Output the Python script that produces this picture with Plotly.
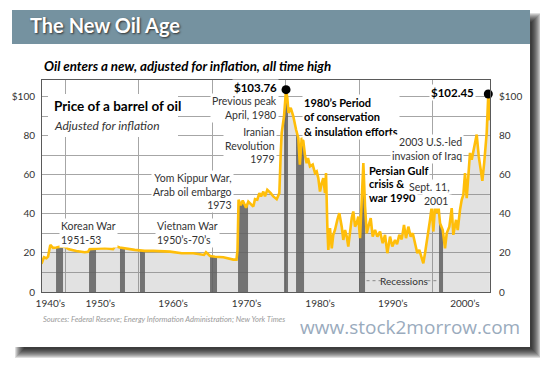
import plotly.graph_objects as go
import numpy as np

# ---------------- data ----------------
years = [1946.80, 1947.14, 1947.46, 1947.69, 1948.00, 1948.37, 1948.82, 1949.52, 1949.96, 1950.54,
         1951.54, 1952.68, 1953.13, 1953.36, 1954.26, 1955.40, 1956.53, 1956.87, 1957.44, 1958.34,
         1959.48, 1960.84, 1962.01, 1964.29, 1965.88, 1967.46, 1968.91, 1969.18, 1969.73, 1970.41,
         1971.54, 1972.90, 1973.33, 1973.47, 1973.61, 1973.90, 1974.18, 1974.63, 1974.94, 1975.62,
         1975.85, 1976.16, 1976.44, 1976.67, 1976.98, 1977.21, 1977.52, 1977.99, 1978.34, 1978.80,
         1979.16, 1979.35, 1979.48, 1979.80, 1980.07, 1980.24, 1980.41, 1980.71, 1981.06, 1981.43,
         1981.74, 1981.95, 1982.20, 1982.42, 1982.65, 1982.88, 1983.06, 1983.33, 1983.70, 1984.01,
         1984.24, 1984.46, 1984.69, 1984.93, 1985.14, 1985.37, 1985.51, 1985.69, 1985.82, 1986.05,
         1986.29, 1986.50, 1986.73, 1987.05, 1987.32, 1987.65, 1987.86, 1988.10, 1988.33, 1988.54,
         1988.78, 1989.01, 1989.22, 1989.46, 1989.69, 1989.90, 1990.14, 1990.37, 1990.59, 1990.82,
         1991.05, 1991.27, 1991.59, 1991.86, 1992.18, 1992.49, 1992.86, 1993.22, 1993.54, 1993.85,
         1994.22, 1994.53, 1994.90, 1995.17, 1995.48, 1995.81, 1996.12, 1996.39, 1996.71, 1997.03,
         1997.31, 1997.62, 1997.93, 1998.20, 1998.53, 1998.75, 1998.98, 1999.29, 1999.66, 1999.89,
         2000.11, 2000.34, 2000.57, 2000.79, 2001.02, 2001.39, 2001.70, 2001.93, 2002.29, 2002.61,
         2002.83, 2003.20, 2003.43, 2003.74, 2003.97, 2004.19, 2004.42, 2004.65, 2004.87, 2005.10,
         2005.33, 2005.69, 2006.01, 2006.29, 2006.56, 2006.78, 2007.05, 2007.37, 2007.59, 2007.80]
price = [14.5, 17.8, 17.3, 18.1, 24.1, 22.6, 22.8, 23.4, 23.1, 21.9,
         21.0, 20.4, 20.6, 22.0, 22.2, 22.4, 22.0, 23.6, 22.8, 22.1,
         21.6, 21.1, 21.1, 20.7, 19.9, 19.9, 19.0, 20.4, 18.5, 18.1,
         17.8, 16.6, 16.6, 21.5, 47.3, 44.5, 46.9, 43.2, 46.4, 43.8,
         47.6, 47.3, 50.7, 49.0, 51.5, 49.0, 52.4, 50.7, 49.0, 47.6,
         50.7, 71.3, 81.6, 90.1, 103.76, 99.6, 91.8, 94.4, 90.1, 83.3,
         79.0, 65.3, 79.0, 77.5, 70.0, 66.0, 68.7, 64.4, 65.3, 61.0,
         61.8, 58.4, 51.5, 55.9, 58.4, 50.7, 61.0, 33.5, 21.6, 32.7,
         22.4, 29.3, 31.8, 37.0, 40.4, 33.5, 26.7, 31.8, 28.4, 23.3,
         31.0, 37.9, 41.3, 33.5, 35.3, 38.7, 27.6, 44.7, 66.1, 43.8,
         30.1, 33.5, 37.9, 28.4, 31.8, 28.4, 31.0, 25.0, 29.3, 19.9,
         28.4, 23.3, 26.7, 24.5, 29.3, 27.0, 34.4, 27.6, 33.5, 28.4,
         30.1, 25.0, 19.9, 21.6, 17.3, 14.7, 19.9, 26.7, 37.0, 43.8,
         31.0, 43.8, 40.4, 44.7, 35.3, 31.8, 22.4, 30.1, 33.5, 43.0,
         29.3, 37.0, 31.8, 42.1, 47.3, 49.8, 61.0, 48.1, 59.3, 71.3,
         67.8, 75.6, 80.7, 69.5, 62.7, 57.0, 67.0, 81.6, 101.5, 88.0]

recession_start = [1948.78, 1953.27, 1957.48, 1960.20, 1969.73, 1973.54, 1979.80, 1981.43, 1990.00, 2000.88]
recession_end = [1949.73, 1954.22, 1958.16, 1960.88, 1970.68, 1974.90, 1980.34, 1982.52, 1990.82, 2001.43]

decade_label_pos = [1948.0, 1954.8, 1964.7, 1974.7, 1984.7, 1994.6, 2004.4]
decade_labels = ["1940\u2019s", "1950\u2019s", "1960\u2019s", "1970\u2019s", "1980\u2019s", "1990\u2019s", "2000\u2019s"]
decade_grid = [1950, 1960, 1970, 1980, 1990, 2000]

ytick_vals = [0, 20, 40, 60, 80, 100]
ytick_text = ["0", "20", "40", "60", "80", "$100"]

peak_year, peak_price = 1980.07, 103.76
last_year, last_price = 2007.59, 101.5

# ---------------- layout helpers ----------------
# the page body adds an 8px margin, so the figure is 8px smaller and
# all positions below are given in window pixels of the reference.
OFF = 8
WIN_W, WIN_H = 548, 367
L, R, T, B = 42, 490, 80, 292
X_RANGE = [1946.87, 2007.82]
Y_RANGE = [0, 108.7]


def PX(x):
    return (x - L) / (R - L)


def PY(y):
    return (B - y) / (B - T)


FONT = "Lato, Roboto, DejaVu Sans Condensed, sans-serif"
GRID = "#a6a6a6"
AXIS = "#5a5a5a"
TXT = "#333333"

fig = go.Figure()

# light fill under the price curve
fig.add_trace(go.Scatter(x=years, y=price, mode="lines", line=dict(width=0),
                         fill="tozeroy", fillcolor="rgba(128,128,128,0.23)",
                         hoverinfo="skip", showlegend=False))

# recession bars, filled up to the price curve
for s, e in zip(recession_start, recession_end):
    inner = [yr for yr in years if s < yr < e]
    xs = [s] + inner + [e]
    ys = list(np.interp(xs, years, price))
    fig.add_trace(go.Scatter(x=xs + [e, s], y=ys + [0, 0], mode="lines",
                             line=dict(width=0), fill="toself",
                             fillcolor="rgba(95,95,95,0.85)",
                             hoverinfo="skip", showlegend=False))

# the price line
fig.add_trace(go.Scatter(x=years, y=price, mode="lines",
                         line=dict(color="#FFBE0A", width=2.6),
                         hoverinfo="skip", showlegend=False))

# peak dots
fig.add_trace(go.Scatter(x=[peak_year, last_year], y=[peak_price, last_price], mode="markers",
                         marker=dict(color="black", size=9), cliponaxis=False,
                         hoverinfo="skip", showlegend=False))

# invisible trace to carry the right-hand axis
fig.add_trace(go.Scatter(x=[years[0]], y=[0], yaxis="y2", mode="markers",
                         marker=dict(opacity=0), hoverinfo="skip", showlegend=False))

shapes = []
# card shadow
for e in range(10):
    shapes.append(dict(type="rect", xref="paper", yref="paper", layer="below",
                       x0=PX(12 + 7 - e + 5), x1=PX(530 + 7 + e - 5),
                       y0=PY(347 + 7 + e - 5), y1=PY(10 + 7 - e + 5),
                       fillcolor="rgba(0,0,0,0.13)", line=dict(width=0)))
# white card
shapes.append(dict(type="rect", xref="paper", yref="paper", layer="below",
                   x0=PX(12), x1=PX(530), y0=PY(347), y1=PY(10),
                   fillcolor="white", line=dict(width=0)))
# title bar
shapes.append(dict(type="rect", xref="paper", yref="paper", layer="below",
                   x0=PX(12), x1=PX(530), y0=PY(44), y1=PY(10),
                   fillcolor="#7592A0", line=dict(width=0)))
# white box behind the chart heading
shapes.append(dict(type="rect", xref="paper", yref="paper", layer="above",
                   x0=PX(48), x1=PX(178), y0=PY(137), y1=PY(94),
                   fillcolor="white", line=dict(width=0)))
# dotted leader lines for "Recessions"
rec_y = (B - 280.7) / (B - T) * Y_RANGE[1]
shapes.append(dict(type="line", xref="x", yref="y", x0=recession_end[8] + 0.2, x1=1993.1,
                   y0=rec_y, y1=rec_y, line=dict(color="#888", width=1, dash="dot")))
shapes.append(dict(type="line", xref="x", yref="y", x0=1999.3, x1=recession_start[9],
                   y0=rec_y, y1=rec_y, line=dict(color="#888", width=1, dash="dot")))

ann = []


def add(text, x, y, xanchor="left", size=10.5, color=TXT, bold=False, italic=False,
        align=None, bg="white", family=FONT, shadow=None):
    f = dict(family=family, size=size, color=color)
    if bold:
        f["weight"] = "bold"
    if italic:
        f["style"] = "italic"
    if shadow:
        f["shadow"] = shadow
    d = dict(text=text, x=PX(x), y=PY(y), xref="paper", yref="paper",
             xanchor=xanchor, yanchor="middle", showarrow=False, font=f,
             align=align or xanchor, borderpad=1)
    if bg:
        d["bgcolor"] = bg
    ann.append(d)


add("The New Oil Age", 28, 25, size=20, color="white", bold=True, bg=None,
    shadow="1px 1px 2px #333")
add("Oil enters a new, adjusted for inflation, all time high", 42, 66, size=13.3,
    color="black", bold=True, italic=True, bg=None)
add("Price of a barrel of oil", 52, 106, size=13.5, color="black", bold=True, bg=None)
add("Adjusted for inflation", 52, 125, size=12, italic=True, bg=None)
add("Korean War<br>1951-53", 59, 232.5)
add("Vietnam War<br>1950\u2019s-70\u2019s", 155, 232.5)
add("Yom Kippur War,<br>Arab oil embargo<br>1973", 234, 191, xanchor="right")
add("$103.76", 279, 87, xanchor="right", size=11.5, color="black", bold=True)
add("Previous peak<br>April, 1980", 279, 108, xanchor="right")
add("Iranian<br>Revolution<br>1979", 277, 145, xanchor="right")
add("1980\u2019s Period<br>of conservation<br>& insulation efforts", 302, 117, size=11,
    color="black", bold=True)
add("Persian Gulf", 367, 170, size=11, color="black", bold=True)
add("crisis &", 367, 183.5, size=11, color="black", bold=True)
add("war 1990", 367, 197, size=11, color="black", bold=True)
add("Sept. 11,", 452, 187.3, xanchor="right")
add("2001", 450, 200.5, xanchor="right")
add("2003 U.S.-led<br>invasion of Iraq", 464, 149.3, xanchor="right")
add("$102.45", 476, 92.3, xanchor="right", size=11.5, color="black", bold=True)
add("Recessions", 403.5, 280.7, xanchor="center", size=10, bg=None)
add("Sources: Federal Reserve; Energy Information Administration; New York Times", 41, 319,
    size=7.6, color="#9a9a9a", italic=True, bg=None)
add("www.stock2morrow.com", 298, 327, size=19, color="#9aabbd", bg=None,
    family="Open Sans, DejaVu Sans, sans-serif")

tickfont = dict(family=FONT, size=10, color=TXT)

fig.update_layout(
    width=WIN_W - OFF, height=WIN_H - OFF,
    margin=dict(l=L - OFF, r=WIN_W - R, t=T - OFF, b=WIN_H - B, pad=0),
    paper_bgcolor="white", plot_bgcolor="white",
    showlegend=False,
    xaxis=dict(range=X_RANGE, showline=True, linecolor=AXIS, linewidth=1, mirror=True,
               showgrid=False, zeroline=False, tickmode="array",
               tickvals=decade_label_pos, ticktext=decade_labels,
               ticks="outside", ticklen=2, tickcolor="rgba(0,0,0,0)", tickfont=tickfont,
               minor=dict(tickmode="array", tickvals=decade_grid, showgrid=True,
                          gridcolor=GRID, gridwidth=1, ticks=""),
               automargin=False, fixedrange=True),
    yaxis=dict(range=Y_RANGE, showline=True, linecolor=AXIS, linewidth=1, mirror=True,
               showgrid=True, gridcolor=GRID, gridwidth=1, zeroline=False,
               tickmode="array", tickvals=ytick_vals, ticktext=ytick_text,
               ticks="outside", ticklen=4, tickcolor="rgba(0,0,0,0)", tickfont=tickfont,
               minor=dict(dtick=10, showgrid=True, gridcolor=GRID, gridwidth=1, ticks=""),
               automargin=False, fixedrange=True),
    yaxis2=dict(range=Y_RANGE, overlaying="y", side="right", showgrid=False, zeroline=False,
                showline=False, tickmode="array", tickvals=ytick_vals, ticktext=ytick_text,
                ticks="outside", ticklen=6, tickcolor="rgba(0,0,0,0)", tickfont=tickfont,
                automargin=False, fixedrange=True),
    shapes=shapes,
    annotations=ann,
)

fig.write_html("out.html")
